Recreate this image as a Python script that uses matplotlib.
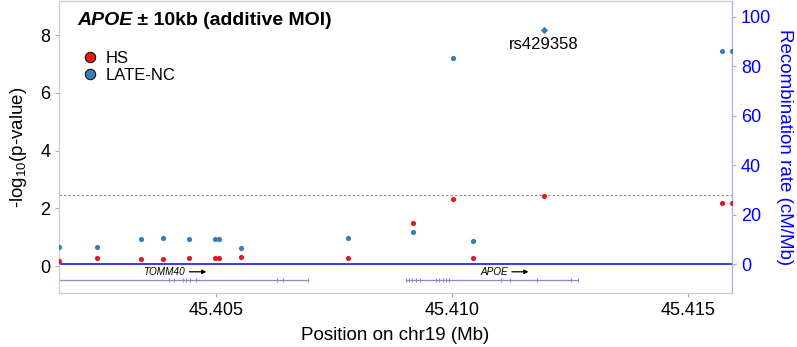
import matplotlib
matplotlib.use("Agg")
import matplotlib.pyplot as plt
import numpy as np

plt.rcParams['font.family'] = ['Liberation Sans', 'DejaVu Sans']
plt.rcParams['mathtext.fontset'] = 'custom'
plt.rcParams['mathtext.rm'] = 'Liberation Sans'
plt.rcParams['mathtext.it'] = 'Liberation Sans:italic'
plt.rcParams['mathtext.bf'] = 'Liberation Sans:bold'

# ---------------- data ----------------
snp_pos = [45.40167, 45.40248, 45.40341, 45.40386, 45.40443, 45.40497, 45.40506,
           45.40552, 45.40779, 45.40917, 45.41001, 45.41045, 45.41194, 45.41572, 45.41593]
hs_logp = [0.17, 0.27, 0.25, 0.25, 0.28, 0.28, 0.28, 0.30, 0.27, 1.50, 2.31, 0.29,
           2.42, 2.17, 2.17]
late_logp = [0.66, 0.65, 0.94, 0.97, 0.94, 0.94, 0.94, 0.62, 0.97, 1.18, 7.19, 0.87,
             8.19, 7.45, 7.45]
lead_snp = "rs429358"
lead_pos = 45.41194
threshold = 2.45

rec_pos = [45.40100, 45.40500, 45.41000, 45.41700]
rec_rate = [0.1, 0.1, 0.1, 0.1]

genes = ["TOMM40", "APOE"]
gene_start = [45.39448, 45.40902]
gene_end = [45.40695, 45.41266]
gene_exons = [
    [45.40399, 45.40410, 45.40429, 45.40436, 45.40445, 45.40456, 45.40629, 45.40642, 45.40695],
    [45.40902, 45.40909, 45.40916, 45.40923, 45.40931, 45.40966, 45.40973, 45.40981,
     45.40987, 45.40994, 45.41103, 45.41123, 45.41180, 45.41252, 45.41266],
]
gene_label_pos = [45.40388, 45.41089]
gene_arrow = [(45.40443, 45.40479), (45.41127, 45.41162)]

xticks = [45.405, 45.410, 45.415]
yticks = [0, 2, 4, 6, 8]
rticks = [0, 20, 40, 60, 80, 100]

c_hs = "#E41A1C"
c_late = "#377EB8"
c_gene = "#8c8cd0"

# ---------------- figure ----------------
fig = plt.figure(figsize=(7.97, 3.47), dpi=100)
ax = fig.add_axes([0.0744, 0.1556, 0.8437, 0.8415])
ax2 = ax.twinx()
ax.set_zorder(ax2.get_zorder() + 1)
ax.patch.set_visible(False)

x0, x1 = min(snp_pos), max(snp_pos)
ax.set_xlim(x0, x1)
ax.set_ylim(-0.935, 9.18)
ax2.set_ylim(-11.72, 106.3)

# recombination rate
ax2.plot(rec_pos, rec_rate, color="#3a3aea", lw=1.4)

# threshold
ax.axhline(threshold, color="#888888", lw=0.8, ls=(0, (2, 2)))

# points
pos = np.array(snp_pos)
late = np.array(late_logp)
hs = np.array(hs_logp)
is_lead = np.isclose(pos, lead_pos)
ax.scatter(pos, hs, s=14, color=c_hs, linewidths=0, zorder=3)
ax.scatter(pos[~is_lead], late[~is_lead], s=14, color=c_late, linewidths=0, zorder=3)
ax.scatter(pos[is_lead], late[is_lead], s=14, marker="D", color=c_late, linewidths=0, zorder=3)
ax.annotate(lead_snp, xy=(lead_pos, late[is_lead][0]), xytext=(0, -10.5),
            textcoords="offset points", ha="center", va="center", fontsize=12)

# genes
gy = -0.495
for i, g in enumerate(genes):
    ax.hlines(gy, gene_start[i], gene_end[i], color=c_gene, lw=0.9, zorder=2)
    ax.plot(gene_exons[i], [gy] * len(gene_exons[i]), ls="none", marker="|",
            ms=3.5, mew=0.8, color=c_gene, zorder=2)
    ax.text(gene_label_pos[i], -0.2, g, style="italic", fontsize=7.2,
            ha="center", va="center")
    a0, a1 = gene_arrow[i]
    ax.annotate("", xy=(a1, -0.2), xytext=(a0, -0.2),
                arrowprops=dict(arrowstyle="-|>", color="black", lw=0.9,
                                mutation_scale=6, shrinkA=0, shrinkB=0))

# legend
hdl = [plt.Line2D([], [], ls="none", marker="o", ms=7.5, mfc=c_hs, mec="black", mew=0.7),
       plt.Line2D([], [], ls="none", marker="o", ms=7.5, mfc=c_late, mec="black", mew=0.7)]
ax.legend(hdl, ["HS", "LATE-NC"], loc="upper left", bbox_to_anchor=(0.0333, 0.828),
          frameon=False, fontsize=12, borderaxespad=0, borderpad=0, handlelength=1.0,
          handletextpad=0.45, labelspacing=0.12)

# title
t1 = ax.text(0.0263, 0.918, "APOE", transform=ax.transAxes, style="italic",
             weight="bold", fontsize=14, va="baseline", ha="left")
ax.annotate(" \u00b1 10kb (additive MOI)", xy=(1, 0), xycoords=t1, va="bottom",
            ha="left", weight="bold", fontsize=14)

# axes styling
ax.set_xticks(xticks)
ax.set_xticklabels([f"{v:.3f}" for v in xticks])
ax.set_yticks(yticks)
ax.tick_params(axis="both", labelsize=13, length=3, color="#aaaaaa", width=0.8)
ax.set_xlabel("Position on chr19 (Mb)", fontsize=13.5, labelpad=6)
ax.set_ylabel(r"-log$_{10}$(p-value)", fontsize=13.5, labelpad=8)
for s in ["left", "bottom", "top"]:
    ax.spines[s].set_color("#cccccc")
    ax.spines[s].set_linewidth(0.9)
ax.spines["right"].set_visible(False)

ax2.set_yticks(rticks)
ax2.tick_params(axis="y", labelsize=13, length=3, color="#aaaaee", width=0.8,
                labelcolor="blue")
ax2.set_ylabel("Recombination rate (cM/Mb)", fontsize=13.5, color="blue",
               rotation=270, labelpad=16)
for s in ["left", "bottom", "top"]:
    ax2.spines[s].set_visible(False)
ax2.spines["right"].set_color("#aaaaee")
ax2.spines["right"].set_linewidth(0.9)

fig.savefig("out.png", dpi=100, facecolor="white")
